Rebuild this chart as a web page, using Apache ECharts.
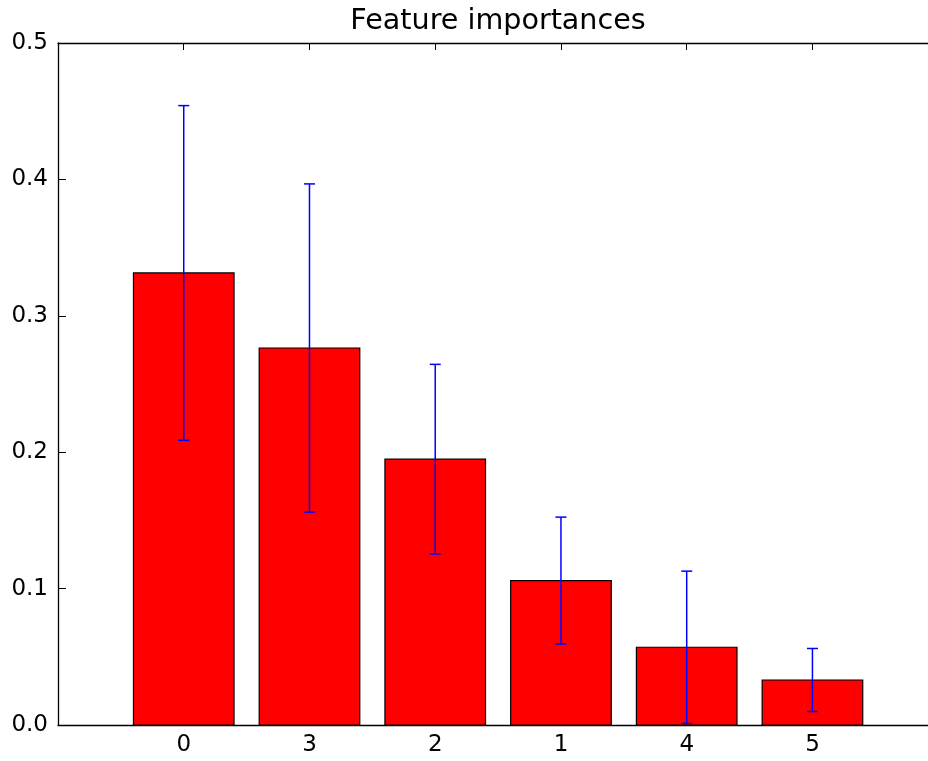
<!DOCTYPE html>
<html>
<head>
<meta charset="utf-8">
<script src="https://cdn.jsdelivr.net/npm/echarts@6/dist/echarts.min.js"></script>
<style>
  html, body { margin: 0; padding: 0; background: #fff; }
  #chart { width: 928px; height: 761px; }
</style>
</head>
<body>
<div id="chart"></div>
<script>
const categories = ['0', '3', '2', '1', '4', '5'];
const importances = [0.3314, 0.2764, 0.1949, 0.1059, 0.0570, 0.0330];
const stds = [0.1227, 0.1203, 0.0695, 0.0465, 0.0558, 0.0231];
const yTickValues = [0.0, 0.1, 0.2, 0.3, 0.4, 0.5];
const titleText = 'Feature importances';

const FONT = 'DejaVu Sans';
const X_MIN = -1, X_MAX = 5.919;
const chart = echarts.init(document.getElementById('chart'), null, { renderer: 'canvas' });

const points = categories.map((c, i) => [i, importances[i], stds[i]]);

function xLabel(v) {
  const i = Math.round(v);
  if (Math.abs(v - i) > 1e-6) return '';
  return categories[i] !== undefined ? categories[i] : '';
}

const option = {
  animation: false,
  backgroundColor: '#ffffff',
  grid: { left: 58, top: 43, right: 0, height: 682, containLabel: false },
  graphic: [{
    type: 'text',
    x: 498, y: 7,
    style: {
      text: titleText,
      font: '28.6px "' + FONT + '"',
      fill: '#000',
      textAlign: 'center',
      textVerticalAlign: 'top'
    },
    z: 10
  }],
  xAxis: [{
    type: 'value', min: X_MIN, max: X_MAX, interval: 1, position: 'bottom',
    axisLine: { show: true, onZero: false, lineStyle: { color: '#000', width: 1.3 } },
    axisTick: { show: true, inside: true, length: 7, lineStyle: { color: '#000', width: 1 } },
    axisLabel: { formatter: xLabel, fontFamily: FONT, fontSize: 23, color: '#000', margin: 9, showMinLabel: false, showMaxLabel: false },
    splitLine: { show: false }
  }, {
    type: 'value', min: X_MIN, max: X_MAX, interval: 1, position: 'top',
    axisLine: { show: true, onZero: false, lineStyle: { color: '#000', width: 1.3 } },
    axisTick: { show: true, inside: true, length: 7, lineStyle: { color: '#000', width: 1 } },
    axisLabel: { show: false },
    splitLine: { show: false }
  }],
  yAxis: [{
    type: 'value', min: 0, max: 0.5, interval: 0.1, position: 'left',
    axisLine: { show: true, onZero: false, lineStyle: { color: '#000', width: 1.3 } },
    axisTick: { show: true, inside: true, length: 8, lineStyle: { color: '#000', width: 1 } },
    axisLabel: { formatter: v => (yTickValues.some(t => Math.abs(t - v) < 1e-9) ? v.toFixed(1) : ''), fontFamily: FONT, fontSize: 23, color: '#000', margin: 10 },
    splitLine: { show: false }
  }],
  series: [{
    type: 'custom',
    name: 'importances',
    xAxisIndex: 0, yAxisIndex: 0,
    data: points,
    encode: { x: 0, y: 1 },
    renderItem: function (params, api) {
      const x = api.value(0), y = api.value(1);
      const p0 = api.coord([x - 0.4, y]);
      const p1 = api.coord([x + 0.4, 0]);
      return {
        type: 'rect',
        shape: { x: p0[0], y: p0[1], width: p1[0] - p0[0], height: p1[1] - p0[1] },
        style: { fill: '#ff0000', stroke: '#000000', lineWidth: 1.2 }
      };
    },
    z: 2
  }, {
    type: 'custom',
    name: 'std',
    xAxisIndex: 0, yAxisIndex: 0,
    data: points,
    encode: { x: 0, y: 1 },
    renderItem: function (params, api) {
      const x = api.value(0), y = api.value(1), s = api.value(2);
      const top = api.coord([x, y + s]);
      const bot = api.coord([x, y - s]);
      const hw = 5.5;
      const st = { stroke: '#0000ff', lineWidth: 1.5 };
      return {
        type: 'group',
        children: [
          { type: 'line', shape: { x1: top[0], y1: top[1], x2: bot[0], y2: bot[1] }, style: st },
          { type: 'line', shape: { x1: top[0] - hw, y1: top[1], x2: top[0] + hw, y2: top[1] }, style: st },
          { type: 'line', shape: { x1: bot[0] - hw, y1: bot[1], x2: bot[0] + hw, y2: bot[1] }, style: st }
        ]
      };
    },
    z: 3
  }]
};

chart.setOption(option);
</script>
</body>
</html>
